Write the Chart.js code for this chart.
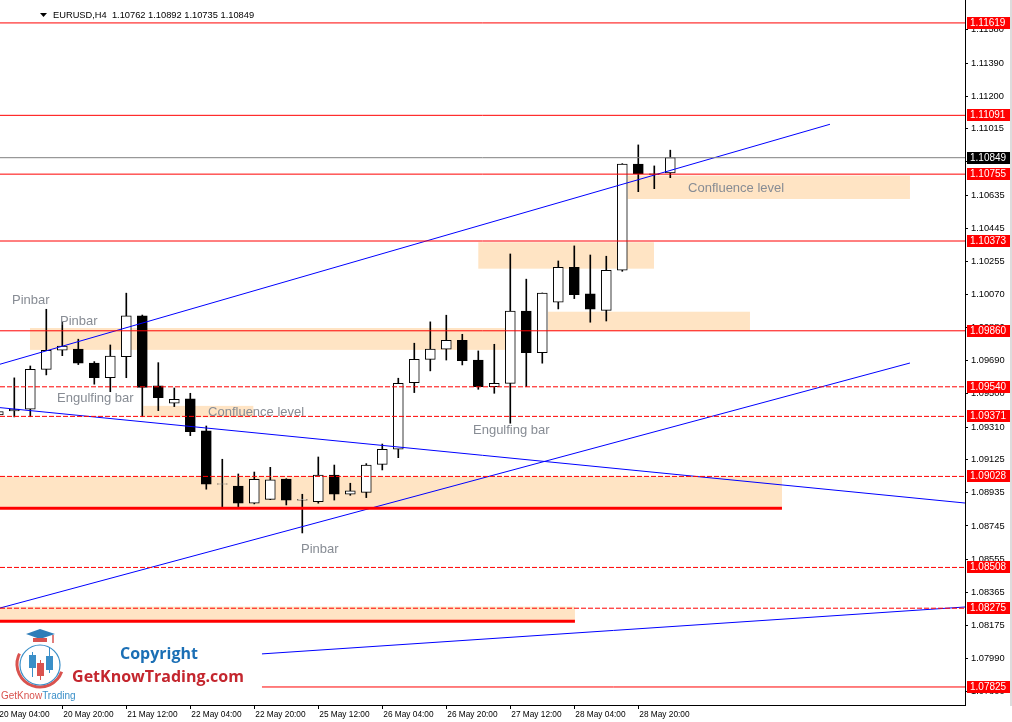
<!DOCTYPE html>
<html>
<head>
<meta charset="utf-8">
<title>EURUSD,H4</title>
<script src="https://cdn.jsdelivr.net/npm/chart.js@4/dist/chart.umd.min.js"></script>
<style>
  html, body { margin: 0; padding: 0; background: #fff; }
  #wrap { width: 1012px; height: 722px; }
</style>
</head>
<body>
<div id="wrap"><canvas id="chart" width="1012" height="722"></canvas></div>
<script>
// Bars: index -1 is 20 May 04:00, one bar every 4 hours
const firstBar = -1;
const opens = [1.09380, 1.09402, 1.09412, 1.09640, 1.09749, 1.09756, 1.09676, 1.09592, 1.09712, 1.09945,
  1.09545, 1.09446, 1.09471, 1.09288, 1.08983, 1.08973, 1.08875, 1.08897, 1.09013, 1.08893,
  1.08884, 1.09036, 1.08926, 1.08937, 1.09097, 1.09183, 1.09564, 1.09697, 1.09755, 1.09806,
  1.09693, 1.09541, 1.09560, 1.09973, 1.09735, 1.10023, 1.10223, 1.10071, 1.09977, 1.10206,
  1.10813, 1.10757, 1.10762];
const highs = [1.09405, 1.09591, 1.09659, 1.09983, 1.09912, 1.09812, 1.09684, 1.09779, 1.10075, 1.09950,
  1.09678, 1.09533, 1.09503, 1.09316, 1.09126, 1.09042, 1.09053, 1.09080, 1.09015, 1.08926,
  1.09139, 1.09093, 1.08989, 1.09101, 1.09213, 1.09589, 1.09789, 1.09911, 1.09949, 1.09840,
  1.09745, 1.09783, 1.10299, 1.10155, 1.10076, 1.10259, 1.10345, 1.10293, 1.10286, 1.10815,
  1.10922, 1.10802, 1.10892];
const lows = [1.09375, 1.09368, 1.09369, 1.09608, 1.09718, 1.09667, 1.09555, 1.09512, 1.09592, 1.09369,
  1.09404, 1.09427, 1.09261, 1.08955, 1.08855, 1.08855, 1.08871, 1.08895, 1.08865, 1.08705,
  1.08875, 1.08893, 1.08920, 1.08907, 1.09065, 1.09135, 1.09507, 1.09631, 1.09693, 1.09665,
  1.09526, 1.09503, 1.09332, 1.09541, 1.09675, 1.09985, 1.10044, 1.09909, 1.09916, 1.10200,
  1.10655, 1.10672, 1.10735];
const closes = [1.09398, 1.09413, 1.09640, 1.09749, 1.09773, 1.09675, 1.09592, 1.09715, 1.09945, 1.09537,
  1.09478, 1.09469, 1.09284, 1.08983, 1.08986, 1.08875, 1.09012, 1.09008, 1.08893, 1.08896,
  1.09036, 1.08926, 1.08945, 1.09093, 1.09183, 1.09560, 1.09697, 1.09755, 1.09806, 1.09689,
  1.09541, 1.09560, 1.09972, 1.09735, 1.10075, 1.10223, 1.10067, 1.09983, 1.10206, 1.10812,
  1.10758, 1.10754, 1.10849];

// Time axis
const timeTicks = [-1, 3, 7, 11, 15, 19, 23, 27, 31, 35, 39];
const timeLabels = ['20 May 04:00', '20 May 20:00', '21 May 12:00', '22 May 04:00', '22 May 20:00',
  '25 May 12:00', '26 May 04:00', '26 May 20:00', '27 May 12:00', '28 May 04:00', '28 May 20:00'];

// Price axis
const priceTicks = [1.11580, 1.11390, 1.11200, 1.11015, 1.10825, 1.10635, 1.10445, 1.10255, 1.10070,
  1.09880, 1.09690, 1.09500, 1.09310, 1.09125, 1.08935, 1.08745, 1.08555, 1.08365, 1.08175,
  1.07990, 1.07800];

// Levels drawn on the chart
const solidLevels = [1.11619, 1.11091, 1.10755, 1.10373, 1.09860];
const dashedLevels = [1.09540, 1.09371, 1.09028, 1.08508, 1.08275];
const lowLevel = 1.07825;
const lowLevelFrom = 15.48;
const lastPrice = 1.10849;
const header = 'EURUSD,H4  1.10762 1.10892 1.10735 1.10849';

// visible window
const viewFrom = -0.894, viewTo = 59.42;
const priceMin = 1.07722, priceMax = 1.11750;

// [fromBar, toBar, price1, price2]
const zones = [
  [0.98, 30.67, 1.09876, 1.09751],
  [8.06, 14.94, 1.09431, 1.09366],
  [viewFrom, 47.98, 1.09028, 1.08855],
  [29.0, 39.98, 1.10366, 1.10215],
  [33.36, 45.98, 1.09969, 1.09859],
  [38.34, 55.98, 1.10747, 1.10613],
  [viewFrom, 35.04, 1.08284, 1.08204]
];

// [bar1, price1, bar2, price2]
const trendLines = [
  [viewFrom, 1.09669, 50.98, 1.11040],
  [viewFrom, 1.09421, viewTo, 1.08876],
  [viewFrom, 1.08276, 55.98, 1.09676],
  [lowLevelFrom, 1.08014, viewTo, 1.08282]
];

// [fromBar, toBar, price]
const thickLines = [
  [viewFrom, 47.98, 1.08846],
  [viewFrom, 35.04, 1.08200]
];

// [text, bar, price]
const notes = [
  ['Pinbar', -0.14, 1.10031],
  ['Pinbar', 2.86, 1.09916],
  ['Engulfing bar', 2.67, 1.09476],
  ['Confluence level', 12.11, 1.09396],
  ['Pinbar', 17.92, 1.08613],
  ['Engulfing bar', 28.67, 1.09288],
  ['Confluence level', 42.11, 1.10671]
];

const bars = opens.map((o, i) => i + firstBar);

const segment = (x1, y1, x2, y2, color, width, dash) => ({
  type: 'line',
  order: 0,
  data: [{ x: x1, y: y1 }, { x: x2, y: y2 }],
  borderColor: color,
  borderWidth: width,
  borderDash: dash || [],
  pointRadius: 0,
  fill: false
});

const datasets = [
  {
    type: 'bar', order: 1, grouped: false,
    data: bars.map((x, i) => ({ x, y: [opens[i], closes[i]] })),
    backgroundColor: bars.map((x, i) => closes[i] >= opens[i] ? '#ffffff' : '#000000'),
    borderColor: '#000', borderWidth: 1, borderSkipped: false, barThickness: 10
  },
  {
    type: 'bar', order: 2, grouped: false,
    data: bars.map((x, i) => ({ x, y: [lows[i], highs[i]] })),
    backgroundColor: '#000', borderWidth: 0, barThickness: 1
  }
];
solidLevels.forEach(p => datasets.push(segment(viewFrom, p, viewTo, p, '#ff0000', 1)));
dashedLevels.forEach(p => datasets.push(segment(viewFrom, p, viewTo, p, '#ff0000', 1, [5, 2])));
datasets.push(segment(lowLevelFrom, lowLevel, viewTo, lowLevel, '#ff0000', 1));
datasets.push(segment(viewFrom, lastPrice, viewTo, lastPrice, '#808080', 1));
thickLines.forEach(([a, b, p]) => datasets.push(segment(a, p, b, p, '#ff0000', 3)));
trendLines.forEach(([a, p, b, q]) => datasets.push(segment(a, p, b, q, '#0000ff', 1)));

const font = (size, weight) => `${weight || 'normal'} ${size}px "Liberation Sans", Arial, sans-serif`;

const overlay = {
  id: 'overlay',
  beforeDatasetsDraw(chart) {
    const { ctx, chartArea: a, scales: { x, y } } = chart;
    ctx.save();
    ctx.beginPath();
    ctx.rect(a.left, a.top, a.width, a.height);
    ctx.clip();
    ctx.fillStyle = '#ffe4c4';
    zones.forEach(([b1, b2, p1, p2]) => {
      const x1 = x.getPixelForValue(b1), x2 = x.getPixelForValue(b2);
      const y1 = y.getPixelForValue(p1), y2 = y.getPixelForValue(p2);
      ctx.fillRect(x1, Math.min(y1, y2), x2 - x1, Math.abs(y2 - y1));
    });
    ctx.restore();
  },
  afterDatasetsDraw(chart) {
    const { ctx, scales: { x, y } } = chart;
    ctx.save();
    ctx.font = font(13);
    ctx.fillStyle = '#878c94';
    ctx.textBaseline = 'middle';
    notes.forEach(([t, b, p]) => ctx.fillText(t, x.getPixelForValue(b), y.getPixelForValue(p)));
    ctx.restore();
  },
  afterDraw(chart) {
    const { ctx, chartArea: a, scales: { y } } = chart;
    ctx.save();

    // window edge on the far right
    ctx.fillStyle = '#dcdcdc';
    ctx.fillRect(1010, 0, 2, a.bottom + 1);

    // price tags on the right axis
    const tag = (p, bg) => {
      const py = Math.round(y.getPixelForValue(p));
      ctx.fillStyle = bg;
      ctx.fillRect(a.right + 2, py - 6, 43, 12);
      ctx.fillStyle = '#fff';
      ctx.font = font(10);
      ctx.textBaseline = 'middle';
      ctx.fillText(p.toFixed(5), a.right + 5, py + 0.5);
    };
    [...solidLevels, ...dashedLevels, lowLevel].forEach(p => tag(p, '#ff0000'));
    tag(lastPrice, '#000000');

    // symbol header
    ctx.fillStyle = '#000';
    ctx.beginPath();
    ctx.moveTo(40, 13); ctx.lineTo(47, 13); ctx.lineTo(43.5, 17);
    ctx.closePath(); ctx.fill();
    ctx.font = font(9.3);
    ctx.textBaseline = 'middle';
    ctx.fillText(header, 53, 15.5);

    // logo
    ctx.lineWidth = 3;
    ctx.strokeStyle = '#d9534f';
    ctx.beginPath(); ctx.arc(40, 664, 23, 0.11 * Math.PI, 1.15 * Math.PI); ctx.stroke();
    ctx.lineWidth = 1.2;
    ctx.strokeStyle = '#3a8fc8';
    ctx.beginPath(); ctx.arc(40, 665, 20, 0, 2 * Math.PI); ctx.stroke();
    ctx.fillStyle = '#2f7db8';
    ctx.beginPath();
    ctx.moveTo(26, 634); ctx.lineTo(40, 629); ctx.lineTo(55, 634); ctx.lineTo(40, 639);
    ctx.closePath(); ctx.fill();
    ctx.fillStyle = '#d9534f';
    ctx.fillRect(33, 638, 14, 4);
    ctx.strokeStyle = '#d9534f';
    ctx.lineWidth = 1.5;
    ctx.beginPath(); ctx.moveTo(53, 635); ctx.lineTo(53, 643); ctx.stroke();
    ctx.lineWidth = 1;
    [[32, 652, 677, 29, 655, 13, '#3a8fc8'], [40, 660, 680, 37, 663, 13, '#d9534f'], [49, 647, 673, 46, 656, 14, '#3a8fc8']]
      .forEach(([cx, t, b, rx, ry, h, c]) => {
        ctx.strokeStyle = c; ctx.fillStyle = c;
        ctx.beginPath(); ctx.moveTo(cx + 0.5, t); ctx.lineTo(cx + 0.5, b); ctx.stroke();
        ctx.fillRect(rx, ry, 7, h);
      });
    ctx.font = font(10);
    ctx.textBaseline = 'middle';
    ctx.fillStyle = '#d9534f';
    ctx.fillText('GetKnow', 1, 696);
    const w = ctx.measureText('GetKnow').width;
    ctx.fillStyle = '#3a8fc8';
    ctx.fillText('Trading', 1 + w, 696);

    ctx.textAlign = 'center';
    ctx.font = 'bold 16px "Open Sans", sans-serif';
    ctx.fillStyle = '#1b6fb5';
    ctx.fillText('Copyright', 159, 654);
    ctx.fillStyle = '#c4262e';
    ctx.fillText('GetKnowTrading.com', 158, 677);
    ctx.restore();
  }
};

new Chart(document.getElementById('chart'), {
  type: 'bar',
  data: { datasets },
  options: {
    responsive: false,
    animation: false,
    events: [],
    layout: { padding: 0 },
    plugins: { legend: { display: false }, tooltip: { enabled: false } },
    scales: {
      x: {
        type: 'linear',
        min: viewFrom,
        max: viewTo,
        offset: false,
        afterBuildTicks: (s) => { s.ticks = timeTicks.map(value => ({ value })); },
        afterFit: (s) => { s.height = 17; s.paddingLeft = 0; s.paddingRight = 0; },
        ticks: {
          autoSkip: false, maxRotation: 0, minRotation: 0, align: 'start', padding: 1, labelOffset: 1,
          color: '#000', font: { family: 'Liberation Sans', size: 8.3 },
          callback: (v) => timeLabels[timeTicks.indexOf(v)]
        },
        grid: { drawOnChartArea: false, offset: false, tickLength: 4, color: '#000' },
        border: { color: '#000' }
      },
      y: {
        position: 'right',
        min: priceMin,
        max: priceMax,
        afterBuildTicks: (s) => { s.ticks = priceTicks.map(value => ({ value })); },
        afterFit: (s) => { s.width = 47; s.paddingTop = 0; s.paddingBottom = 0; },
        ticks: {
          autoSkip: false, padding: 3, color: '#000', font: { family: 'Liberation Sans', size: 9.3 },
          callback: (v) => v.toFixed(5)
        },
        grid: { drawOnChartArea: false, tickLength: 3, color: '#000' },
        border: { color: '#000' }
      }
    }
  },
  plugins: [overlay]
});
</script>
</body>
</html>
